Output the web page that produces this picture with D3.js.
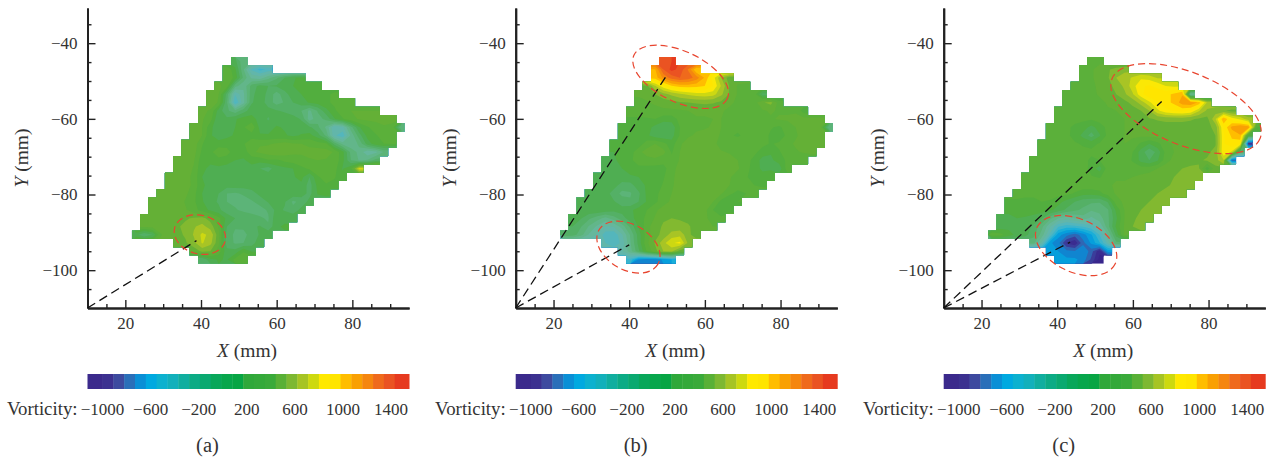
<!doctype html>
<html>
<head>
    <meta charset="utf-8">
    <script src="https://d3js.org/d3.v7.min.js"></script>
</head>
<style>
    body { margin: 0; background: #fff; }
    svg text { font-family: "Liberation Serif", serif; font-size: 17px; fill: #333; }
    svg text.title { font-size: 19.5px; }
    svg text.name { font-size: 18.8px; }
    svg text.caption { font-size: 20.5px; }
    .domain { stroke: #222; stroke-width: 2; }
    .tick line { stroke: #222; stroke-width: 1.4; }
</style>
<body>
<script>
    var xTicks = [20, 40, 60, 80],
        yTicks = [-40, -60, -80, -100],
        xMinorTicks = [15, 25, 30, 35, 45, 50, 55, 65, 70, 75, 85, 90],
        yMinorTicks = [-35, -45, -50, -55, -65, -70, -75, -85, -90, -95, -105],
        legendTicks = [-1000, -600, -200, 200, 600, 1000, 1400],
        captions = ["(a)", "(b)", "(c)"];

    // contour levels of the colour bar, one band more than levels
    var levels = [-1000, -910, -820, -730, -640, -550, -460, -370, -280, -190, -100, -10, 80, 170, 260,
                  350, 440, 530, 620, 710, 800, 890, 980, 1070, 1160, 1250, 1340, 1430];
    var legendColors = ["#3b2a8c", "#3c3190", "#3d4a9f", "#2a6fb9", "#0a8fd6", "#00a9e0", "#0cb1cf", "#12b0bb",
                        "#10ae9f", "#0cab85", "#0aa970", "#08a75a", "#07a64c", "#07a544", "#2fa83a", "#34a93a",
                        "#3aaa3a", "#59b036", "#7db832", "#a6c424", "#cdd90f", "#ffe900", "#ffe500", "#ffbd00",
                        "#f9a003", "#f5860f", "#ef6a1c", "#ea5322", "#e63a1f"];
    // the contour plots come out paler than the bar in the teal part
    var fieldColors = ["#38268c", "#3a2c90", "#3b3d9a", "#2f66b4", "#1085d0", "#069fdc", "#1aaed8", "#3cb4cc",
                       "#54b6bc", "#62b6aa", "#66b79c", "#62b68a", "#5cb478", "#54b066", "#4fae52", "#52ae3e",
                       "#5bb03a", "#64b036", "#82b930", "#a8c425", "#cdd812", "#fbe805", "#ffe500", "#ffbd00",
                       "#f9a003", "#f5860f", "#ef6a1c", "#ea5322", "#e63a1f"];

    // measured cells: first column and end column of every row, same for all panels
    var rowStart = [12, 11, 11, 10, 9, 9, 8, 8, 7, 7, 6, 6, 5, 5, 4, 4, 3, 2, 2, 1, 1, 0, 5, 7, 8],
        rowEnd = [14, 17, 21, 23, 25, 27, 30, 32, 33, 32, 32, 31, 30, 28, 26, 25, 24, 22, 21, 20, 19, 17, 16, 15, 14];

    var vorticityA = [
        [200, 0],
        [430, 280, 0, -300, -400, -350],
        [430, 320, 60, -120, -150, -40, 60, 170, 250, 280],
        [460, 400, 30, -80, 120, 200, 170, 180, 230, 260, 280, 300, 320],
        [500, 440, 130, -270, -120, 140, 230, 140, 40, 130, 230, 260, 290, 320, 340, 360],
        [500, 430, 90, -380, -130, 160, 220, 130, 40, 90, 170, 220, 270, 300, 330, 370, 400, 430],
        [460, 430, 220, 100, 20, 130, 220, 220, 200, 180, 150, 110, 80, -30, 90, 230, 330, 410, 440, 440, 440, 440],
        [450, 390, 170, 190, 250, 300, 300, 220, 160, 220, 240, 220, 160, -60, 50, 100, 250, 340, 410, 450, 460, 470, 470, 470],
        [480, 440, 290, 180, 220, 260, 340, 420, 230, 220, 270, 250, 250, 220, 190, 100, -30, -270, -220, 40, 250, 340, 390, 430, 410, 0],
        [480, 440, 270, 220, 240, 270, 290, 310, 270, 270, 290, 270, 240, 270, 290, 210, 60, -260, -340, -80, 130, 290, 340, 390, 420],
        [500, 490, 360, 260, 290, 310, 290, 340, 410, 430, 430, 450, 480, 450, 440, 420, 390, 370, 140, -40, -80, 10, 210, 310, 350, 360],
        [500, 480, 330, 320, 430, 390, 290, 290, 420, 460, 490, 520, 490, 460, 450, 470, 490, 480, 430, 290, 50, -40, -170, -130, 0],
        [500, 480, 450, 290, 270, 310, 290, 260, 250, 290, 290, 340, 330, 370, 390, 420, 430, 440, 430, 420, 290, 80, -20, 0, 120],
        [510, 490, 430, 270, 250, 240, 230, 230, 200, 230, 170, 130, 220, 240, 260, 320, 370, 410, 420, 390, 250, 340, 760],
        [510, 500, 480, 410, 260, 240, 230, 230, 230, 220, 240, 250, 230, 220, 240, 250, 290, 170, 340, 390, 360, 290],
        [510, 510, 490, 410, 270, 240, 220, 210, 220, 220, 230, 230, 230, 230, 230, 230, 240, 130, 290, 340, 320],
        [510, 510, 500, 460, 380, 260, 220, 170, 80, 70, 90, 130, 200, 230, 240, 240, 240, 220, 140, 270, 290],
        [510, 510, 510, 490, 430, 370, 270, 200, 160, 80, 60, 50, 70, 110, 180, 200, 180, 60, 110, 200],
        [510, 510, 510, 500, 450, 390, 310, 240, 190, 120, 90, 60, 40, 50, 90, 200, 160, 110, 200],
        [490, 510, 520, 520, 520, 520, 540, 560, 490, 380, 230, 170, 150, 130, 90, 70, 240, 240, 240],
        [460, 480, 500, 510, 520, 550, 610, 650, 580, 430, 170, 90, 100, 150, 180, 90, 250, 270],
        [200, 90, 170, 430, 490, 510, 540, 630, 730, 690, 470, 130, 60, 50, 120, 180, 250],
        [470, 520, 590, 720, 650, 460, 120, 70, 80, 130, 230],
        [470, 550, 530, 400, 200, 200, 340, 250],
        [90, 230, 270, 250, 380, 430]
    ];

    var vorticityB = [
        [1380, 1430],
        [1060, 1340, 1460, 1400, 1240, 980],
        [1020, 1180, 1290, 1340, 1300, 1210, 1060, 850, 620, 480],
        [500, 700, 860, 970, 1020, 1030, 1010, 980, 890, 700, 520, 430, 420],
        [450, 470, 530, 590, 640, 690, 730, 760, 770, 750, 640, 520, 430, 400, 400, 150],
        [420, 430, 460, 480, 500, 520, 530, 540, 550, 540, 510, 460, 420, 400, 400, 520, 560, 400],
        [380, 380, 400, 400, 420, 420, 430, 440, 460, 460, 460, 450, 420, 400, 400, 390, 430, 450, 430, 430, 430, 300],
        [340, 340, 340, 350, 300, 300, 380, 420, 430, 430, 440, 440, 430, 410, 400, 390, 400, 430, 450, 450, 460, 470, 470, 470],
        [300, 300, 300, 300, 230, 180, 200, 350, 420, 430, 430, 450, 440, 400, 370, 360, 380, 400, 360, 330, 400, 440, 480, 480, 470, 0],
        [280, 280, 280, 280, 210, 190, 220, 360, 430, 450, 470, 470, 430, 360, 340, 370, 400, 400, 330, 280, 380, 430, 470, 480, 470],
        [270, 270, 280, 290, 400, 440, 380, 300, 430, 470, 480, 480, 470, 400, 380, 400, 430, 430, 380, 340, 370, 420, 450, 470, 480, 480],
        [260, 270, 300, 420, 470, 490, 470, 340, 440, 490, 500, 500, 480, 450, 430, 420, 420, 380, 300, 270, 340, 400, 430, 450, 470],
        [240, 250, 280, 330, 400, 410, 420, 380, 370, 450, 500, 510, 510, 500, 500, 480, 440, 400, 310, 230, 240, 300, 370, 420, 350],
        [240, 240, 260, 290, 320, 320, 310, 320, 400, 480, 520, 530, 530, 520, 500, 490, 450, 390, 300, 240, 250, 200, 400],
        [240, 240, 240, 250, 250, 260, 270, 290, 340, 420, 480, 500, 510, 510, 490, 480, 450, 400, 360, 310, 300, 300],
        [240, 230, 220, 120, 130, 230, 270, 300, 360, 430, 470, 490, 490, 490, 480, 470, 440, 400, 370, 350, 340],
        [240, 230, 220, 120, 60, 70, 150, 280, 330, 380, 440, 480, 500, 520, 520, 480, 450, 370, 320, 350, 380],
        [250, 240, 230, 210, 180, 120, 90, 170, 270, 330, 400, 460, 490, 510, 520, 500, 440, 320, 270, 350],
        [230, 240, 250, 230, 200, 210, 240, 300, 350, 420, 480, 500, 510, 510, 500, 470, 350, 280, 340],
        [170, 180, 100, 30, -40, 40, 130, 220, 310, 370, 450, 520, 530, 520, 510, 500, 460, 400, 370],
        [170, 90, -20, -120, -200, -180, -60, 100, 270, 400, 500, 540, 560, 560, 540, 500, 470, 440],
        [150, 130, 30, -110, -200, -330, -350, -200, 0, 210, 400, 500, 560, 660, 680, 560, 470],
        [-280, -360, -250, -20, 200, 420, 540, 680, 790, 820, 600],
        [-200, -50, 150, 360, 500, 620, 640, 480],
        [-400, -650, -700, -700, -620, -550]
    ];

    var vorticityC = [
        [400, 420],
        [420, 430, 470, 520, 560, 580],
        [400, 430, 470, 520, 620, 680, 720, 780, 760, 700],
        [380, 400, 430, 450, 500, 560, 640, 760, 880, 900, 860, 800, 780],
        [380, 390, 400, 420, 450, 480, 530, 600, 700, 860, 960, 960, 950, 1000, 1060, -100],
        [380, 380, 390, 400, 420, 450, 470, 500, 560, 660, 780, 880, 950, 1000, 1120, 1150, 1050, 700],
        [420, 400, 380, 380, 390, 410, 430, 440, 460, 490, 530, 620, 780, 860, 900, 920, 880, 720, 600, 560, 540, 500],
        [430, 400, 380, 370, 360, 390, 420, 430, 440, 450, 480, 520, 540, 560, 560, 560, 540, 520, 500, 700, 1080, 850, 780, 650],
        [400, 400, 370, 330, 300, 230, 300, 380, 420, 440, 450, 460, 470, 480, 480, 480, 480, 490, 500, 500, 560, 900, 1100, 1160, 1130, 350],
        [400, 400, 370, 320, 230, 130, 250, 380, 420, 440, 450, 460, 470, 480, 480, 470, 460, 470, 490, 490, 530, 880, 1000, 1060, 300],
        [400, 400, 390, 380, 360, 340, 320, 360, 400, 420, 440, 420, 330, 260, 320, 420, 450, 460, 470, 480, 490, 520, 880, 950, 900, -950],
        [420, 410, 400, 380, 370, 370, 370, 390, 410, 420, 430, 350, 220, 100, 200, 380, 440, 470, 480, 490, 510, 560, 880, 780, 100],
        [400, 400, 420, 430, 420, 410, 380, 330, 350, 400, 420, 400, 340, 230, 170, 250, 400, 470, 490, 510, 520, 540, 580, 700, -800],
        [410, 420, 430, 400, 380, 400, 420, 300, 220, 400, 430, 410, 390, 390, 400, 440, 490, 510, 530, 540, 540, 300, 500],
        [380, 360, 380, 400, 370, 400, 420, 400, 360, 340, 410, 430, 430, 440, 460, 480, 490, 510, 530, 540, 540, 550],
        [370, 370, 400, 420, 420, 420, 410, 410, 410, 410, 430, 450, 450, 470, 490, 500, 510, 520, 540, 560, 570],
        [370, 360, 360, 380, 390, 380, 380, 340, 290, 290, 320, 400, 450, 470, 480, 500, 510, 530, 550, 570, 590],
        [340, 340, 340, 340, 350, 340, 290, 230, 170, 120, 100, 90, 180, 400, 460, 490, 510, 530, 560, 600],
        [300, 310, 310, 300, 300, 280, 220, 150, 100, 60, 0, 20, 70, 280, 440, 500, 530, 570, 610],
        [220, 220, 260, 250, 230, 180, 20, -100, -150, -100, -50, -120, -50, 60, 240, 440, 510, 560, 610],
        [210, 230, 240, 220, 150, 20, -180, -360, -420, -400, -360, -300, -180, 50, 280, 450, 530, 600],
        [400, 380, 300, 230, 200, 110, -50, -300, -600, -700, -780, -680, -560, -360, -100, 200, 450],
        [20, -220, -620, -700, -920, -980, -760, -620, -470, -250, 60],
        [-600, -640, -700, -720, -640, -780, -980, -600],
        [-600, -620, -620, -680, -840, -1030]
    ];

    // dashed leader lines start at the axes corner, [x, y] end in mm
    var leadersA = [[38.8, -92.2]],
        leadersB = [[49.7, -48.8], [40, -93.3]],
        leadersC = [[67.6, -55.4], [43.4, -92.6]];
    // red rings: centre x, centre y, radius x, radius y (mm), tilt (deg)
    var ringsA = [[39.7, -90.6, 6.9, 5.1, 15]],
        ringsB = [[53.6, -48.9, 13.6, 6.7, 25], [39.8, -93.9, 9, 6, 30]],
        ringsC = [[74.05, -57.3, 21.1, 9.6, 22], [45, -93.5, 11.4, 7, 25]];

    var grids = [vorticityA, vorticityB, vorticityC],
        leaders = [leadersA, leadersB, leadersC],
        rings = [ringsA, ringsB, ringsC],
        panelLeft = [87.5, 515.7, 943.7];

    var plotWidth = 321.6,
        plotTop = 8,
        plotBottom = 308,
        cell = 2.185,       // mm per grid cell
        gridLeft = 21.72,   // mm
        gridTop = -43.66,   // mm
        nCols = 33,
        nRows = 25;

    var x = d3.scaleLinear().domain([10, 95]).range([0, plotWidth]);
    var y = d3.scaleLinear().domain([-110, -30.7]).range([plotBottom, plotTop]);
    var legendX = d3.scaleLinear().domain([-1125, 1550]).range([0, plotWidth]);
    var minus = function (d) { return String(d).replace("-", "\u2212"); };

    var svg = d3.select("body").append("svg")
        .attr("width", 1278)
        .attr("height", 462)
        .style("display", "block");

    // the staircase outline of the measured area
    function outline() {
        var pts = [];
        rowEnd.forEach(function (e, r) {
            pts.push([x(gridLeft + e * cell), y(gridTop - r * cell)]);
            pts.push([x(gridLeft + e * cell), y(gridTop - (r + 1) * cell)]);
        });
        for (var r = nRows - 1; r >= 0; r--) {
            pts.push([x(gridLeft + rowStart[r] * cell), y(gridTop - (r + 1) * cell)]);
            pts.push([x(gridLeft + rowStart[r] * cell), y(gridTop - r * cell)]);
        }
        return d3.line()(pts) + "Z";
    }

    // cells outside the mask repeat the row's end value so the contours run past the edge
    function flatten(grid) {
        var out = [];
        grid.forEach(function (row, r) {
            for (var c = 0; c < nCols; c++) {
                var i = Math.max(0, Math.min(row.length - 1, c - rowStart[r]));
                out.push(row[i]);
            }
        });
        return out;
    }

    var toPlot = d3.geoPath(d3.geoTransform({
        point: function (px, py) {
            this.stream.point(x(gridLeft + px * cell), y(gridTop - py * cell));
        }
    }));

    grids.forEach(function (grid, p) {
        var g = svg.append("g").attr("transform", "translate(" + panelLeft[p] + ",0)");

        svg.append("clipPath").attr("id", "mask" + p)
            .append("path").attr("d", outline());

        // slight blur, the reference is a soft scan
        var field = g.append("g").style("filter", "blur(0.5px)")
            .append("g").attr("clip-path", "url(#mask" + p + ")");
        field.append("path").attr("d", outline()).attr("fill", fieldColors[0]);

        var contours = d3.contours().size([nCols, nRows]).smooth(true).thresholds(levels)(flatten(grid));
        field.selectAll("path.band")
            .data(contours)
            .enter()
            .append("path")
            .attr("class", "band")
            .attr("d", toPlot)
            .attr("fill", function (d, i) { return fieldColors[i + 1]; });

        // axes
        g.append("g").attr("transform", "translate(0," + plotBottom + ")")
            .call(d3.axisBottom(x).tickValues(xMinorTicks).tickSize(-4).tickSizeOuter(0).tickFormat(""));
        g.append("g").attr("transform", "translate(0," + plotBottom + ")")
            .call(d3.axisBottom(x).tickValues(xTicks).tickSize(-8).tickSizeOuter(0).tickPadding(9).tickFormat(minus));
        g.append("g")
            .call(d3.axisLeft(y).tickValues(yMinorTicks).tickSize(-4).tickSizeOuter(0).tickFormat(""));
        g.append("g")
            .call(d3.axisLeft(y).tickValues(yTicks).tickSize(-8).tickSizeOuter(0).tickPadding(10).tickFormat(minus));
        g.selectAll(".tick text").attr("font-family", null).attr("font-size", null);

        // leaders and rings
        g.selectAll("line.leader")
            .data(leaders[p])
            .enter()
            .append("line")
            .attr("class", "leader")
            .attr("x1", x(10)).attr("y1", y(-110))
            .attr("x2", function (d) { return x(d[0]); })
            .attr("y2", function (d) { return y(d[1]); })
            .attr("stroke", "#111").attr("stroke-width", 1.3).attr("stroke-dasharray", "9,5");

        g.selectAll("ellipse")
            .data(rings[p])
            .enter()
            .append("ellipse")
            .attr("rx", function (d) { return x(10 + d[2]) - x(10); })
            .attr("ry", function (d) { return y(-110) - y(-110 + d[3]); })
            .attr("transform", function (d) {
                return "translate(" + x(d[0]) + "," + y(d[1]) + ") rotate(" + d[4] + ")";
            })
            .attr("fill", "none")
            .attr("stroke", "#e8452f").attr("stroke-width", 1.2).attr("stroke-dasharray", "7,4");

        // axis titles
        var xt = g.append("text").attr("class", "title").attr("x", 159.5).attr("y", 357).attr("text-anchor", "middle");
        xt.append("tspan").attr("font-style", "italic").text("X");
        xt.append("tspan").text(" (mm)");
        var yt = g.append("text").attr("class", "title").attr("transform", "translate(-60,158) rotate(-90)").attr("text-anchor", "middle");
        yt.append("tspan").attr("font-style", "italic").text("Y");
        yt.append("tspan").text(" (mm)");

        // colour bar
        var edges = [legendX.domain()[0]].concat(levels, [legendX.domain()[1]]);
        g.selectAll("rect.band")
            .data(legendColors)
            .enter()
            .append("rect")
            .attr("class", "band")
            .attr("x", function (d, i) { return legendX(edges[i]); })
            .attr("width", function (d, i) { return legendX(edges[i + 1]) - legendX(edges[i]) + 0.4; })
            .attr("y", 374)
            .attr("height", 15)
            .attr("fill", function (d) { return d; });

        g.selectAll("text.lab")
            .data(legendTicks)
            .enter()
            .append("text")
            .attr("class", "lab")
            .attr("x", function (d) { return legendX(d); })
            .attr("y", 415)
            .attr("text-anchor", "middle")
            .text(minus);
        g.append("text").attr("class", "name").attr("x", -10).attr("y", 415).attr("text-anchor", "end").text("Vorticity:");

        g.append("text").attr("class", "caption").attr("x", 120).attr("y", 452).attr("text-anchor", "middle").text(captions[p]);
    });
</script>
</body>
</html>
